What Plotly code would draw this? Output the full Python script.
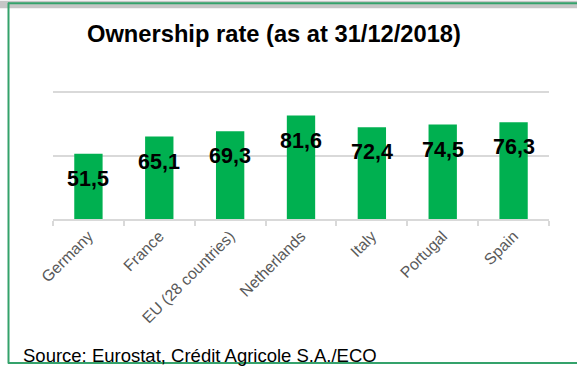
import plotly.graph_objects as go

# Home ownership rate by country, end of 2018 (%)
countries = ["Germany", "France", "EU (28 countries)", "Netherlands", "Italy", "Portugal", "Spain"]
rates = [51.5, 65.1, 69.3, 81.6, 72.4, 74.5, 76.3]
rate_labels = ["51,5", "65,1", "69,3", "81,6", "72,4", "74,5", "76,3"]

title_text = "Ownership rate (as at 31/12/2018)"
source_text = "Source: Eurostat, Crédit Agricole S.A./ECO"

W, H = 577, 368
M_L, M_R, M_T, M_B = 53, 28, 90.7, 148.5
PW, PH = W - M_L - M_R, H - M_T - M_B

FONT = "Arial, 'Liberation Sans', sans-serif"
BAR_GREEN = "#00b050"
FRAME_GREEN = "#34a26b"
GRID = "#d9d9d9"


def px_x(px):
    return (px - M_L) / PW


def px_y(py):
    return (H - M_B - py) / PH


fig = go.Figure(
    go.Bar(
        x=countries,
        y=rates,
        marker=dict(color=BAR_GREEN, line=dict(width=0)),
        hoverinfo="skip",
    )
)

# value labels sit inside the top of each bar
annotations = [
    dict(
        x=c, y=v, xref="x", yref="y", text=f"<b>{t}</b>", showarrow=False,
        yanchor="middle", xanchor="center", yshift=-25,
        font=dict(family=FONT, size=21.5, color="#000000"),
    )
    for c, v, t in zip(countries, rates, rate_labels)
]

annotations.append(dict(
    x=px_x(274), y=px_y(33), xref="paper", yref="paper",
    text=f"<b>{title_text}</b>", showarrow=False,
    xanchor="center", yanchor="middle",
    font=dict(family=FONT, size=23.7, color="#000000"),
))
annotations.append(dict(
    x=px_x(21), y=px_y(357), xref="paper", yref="paper",
    text=source_text, showarrow=False,
    xanchor="left", yanchor="middle",
    font=dict(family=FONT, size=18.5, color="#000000"),
))

shapes = [
    # grey band along the top edge
    dict(type="rect", xref="paper", yref="paper", layer="below",
         x0=px_x(0), x1=px_x(W), y0=px_y(0), y1=px_y(7.5),
         fillcolor="#c6c6c6", line=dict(width=0)),
    # chart frame: top, left and bottom edges
    dict(type="line", xref="paper", yref="paper",
         x0=px_x(8), x1=px_x(W), y0=px_y(2.5), y1=px_y(2.5),
         line=dict(color=FRAME_GREEN, width=2)),
    dict(type="line", xref="paper", yref="paper",
         x0=px_x(8.5), x1=px_x(8.5), y0=px_y(2), y1=px_y(365),
         line=dict(color=FRAME_GREEN, width=2)),
    dict(type="line", xref="paper", yref="paper",
         x0=px_x(8), x1=px_x(W), y0=px_y(364.5), y1=px_y(364.5),
         line=dict(color=FRAME_GREEN, width=2)),
]

fig.update_layout(
    width=W, height=H,
    margin=dict(l=M_L, r=M_R, t=M_T, b=M_B, autoexpand=False),
    paper_bgcolor="#ffffff",
    plot_bgcolor="#ffffff",
    bargap=0.6,
    showlegend=False,
    annotations=annotations,
    shapes=shapes,
    xaxis=dict(
        type="category",
        tickangle=-45,
        tickfont=dict(family=FONT, size=15.8, color="#595959"),
        showline=True, linecolor=GRID, linewidth=1.5,
        ticks="outside", tickson="boundaries", ticklen=5,
        tickcolor=GRID, tickwidth=1.5,
        showgrid=False,
    ),
    yaxis=dict(
        range=[0, 101],
        tickvals=[0, 50, 100],
        showticklabels=False,
        showgrid=True, gridcolor=GRID, gridwidth=1.5,
        zeroline=False,
        showline=False,
    ),
)

fig.write_html("out.html")
